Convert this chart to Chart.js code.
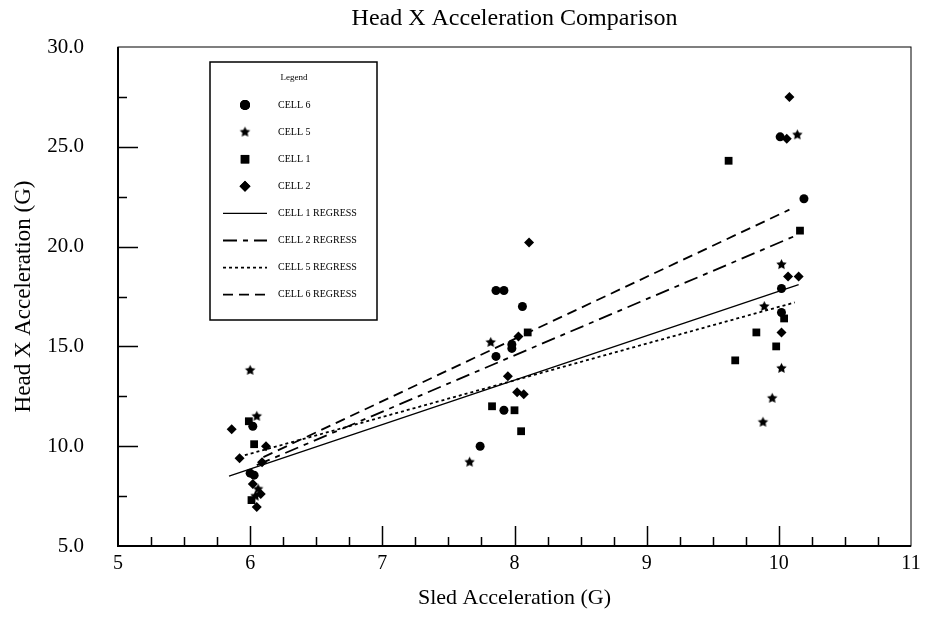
<!DOCTYPE html>
<html>
<head>
<meta charset="utf-8">
<script src="https://cdn.jsdelivr.net/npm/chart.js@4.4.1/dist/chart.umd.min.js"></script>
<style>
  html, body { margin: 0; padding: 0; background: #fff; }
  #wrap { width: 928px; height: 628px; }
</style>
</head>
<body>
<div id="wrap"><canvas id="accChart" width="928" height="628"></canvas></div>
<script>
// values
const cell6X = [6.00, 6.03, 6.02, 7.86, 7.92, 8.06, 7.98, 7.98, 7.86, 7.92, 7.74, 10.01, 10.19, 10.02, 10.02];
const cell6Y = [8.65, 8.55, 11.0, 17.8, 17.8, 17.0, 15.1, 14.9, 14.5, 11.8, 10.0, 25.5, 22.4, 17.9, 16.7];

const cell5X = [6.00, 6.05, 6.06, 6.04, 7.82, 7.66, 10.14, 10.02, 9.89, 10.02, 9.95, 9.88];
const cell5Y = [13.8, 11.5, 7.85, 7.5, 15.2, 9.2, 25.6, 19.1, 17.0, 13.9, 12.4, 11.2];

const cell1X = [5.99, 6.03, 6.01, 8.10, 7.83, 8.00, 8.05, 9.62, 10.16, 10.04, 9.98, 9.83, 9.67];
const cell1Y = [11.25, 10.1, 7.3, 15.7, 12.0, 11.8, 10.75, 24.3, 20.8, 16.4, 15.0, 15.7, 14.3];

const cell2X = [5.86, 5.92, 6.12, 6.09, 6.02, 6.08, 6.05, 8.11, 7.95, 8.02, 8.07, 8.03, 10.08, 10.06, 10.07, 10.15, 10.02];
const cell2Y = [10.85, 9.4, 10.0, 9.2, 8.1, 7.6, 6.95, 20.2, 13.5, 12.7, 12.6, 15.5, 27.5, 25.4, 18.5, 18.5, 15.7];

// regression line end points
const reg1X = [5.84, 10.15], reg1Y = [8.5, 18.1];
const reg2X = [6.05, 10.11], reg2Y = [9.05, 20.5];
const reg5X = [5.96, 10.12], reg5Y = [9.55, 17.2];
const reg6X = [6.10, 10.08], reg6Y = [9.45, 21.85];

const xTicks = [5, 6, 7, 8, 9, 10, 11];
const yTicks = [5, 10, 15, 20, 25, 30];

const serif = "'Liberation Serif', 'Times New Roman', serif";

function pts(xs, ys) {
    return xs.map((x, i) => ({ x: x, y: ys[i] }));
}

// filled five point star for CELL 5
function makeStar(r) {
    const c = document.createElement("canvas");
    const s = Math.ceil(r * 2 + 2);
    c.width = s; c.height = s;
    const g = c.getContext("2d");
    g.fillStyle = "#000";
    g.beginPath();
    for (let i = 0; i < 10; i++) {
        const rad = i % 2 === 0 ? r : r * 0.5;
        const a = -Math.PI / 2 + i * Math.PI / 5;
        const px = s / 2 + rad * Math.cos(a), py = s / 2 + rad * Math.sin(a);
        if (i === 0) g.moveTo(px, py); else g.lineTo(px, py);
    }
    g.closePath();
    g.fill();
    return c;
}
const starImg = makeStar(5.5);

function scatterSet(label, data, style, radius) {
    return {
        type: "scatter",
        label: label,
        data: data,
        pointStyle: style,
        pointRadius: radius,
        backgroundColor: "#000",
        borderColor: "#000",
        borderWidth: 0,
    };
}

function lineSet(label, data, dash, width) {
    return {
        type: "line",
        label: label,
        data: data,
        borderColor: "#000",
        borderWidth: width,
        borderDash: dash,
        pointRadius: 0,
        fill: false,
    };
}

const datasets = [
    scatterSet("CELL 6", pts(cell6X, cell6Y), "circle", 4.5),
    scatterSet("CELL 5", pts(cell5X, cell5Y), starImg, 5),
    scatterSet("CELL 1", pts(cell1X, cell1Y), "rect", 5.5),
    scatterSet("CELL 2", pts(cell2X, cell2Y), "rectRot", 5),
    lineSet("CELL 1 REGRESS", pts(reg1X, reg1Y), [], 1.3),
    lineSet("CELL 2 REGRESS", pts(reg2X, reg2Y), [14, 6, 5, 6], 1.8),
    lineSet("CELL 5 REGRESS", pts(reg5X, reg5Y), [3, 3], 1.8),
    lineSet("CELL 6 REGRESS", pts(reg6X, reg6Y), [10, 6], 1.8),
];

// frame, inward tick marks, title and the boxed legend
const decorPlugin = {
    id: "decor",
    afterDraw(chart) {
        const ctx = chart.ctx;
        const a = chart.chartArea;
        const xs = chart.scales.x, ys = chart.scales.y;
        ctx.save();
        ctx.strokeStyle = "#000";

        // frame
        ctx.lineWidth = 1;
        ctx.strokeRect(a.left, a.top, a.right - a.left, a.bottom - a.top);
        ctx.lineWidth = 2;
        ctx.beginPath();
        ctx.moveTo(a.left, a.top);
        ctx.lineTo(a.left, a.bottom);
        ctx.lineTo(a.right, a.bottom);
        ctx.stroke();

        // ticks
        ctx.lineWidth = 1.5;
        ctx.beginPath();
        for (let v = 5.25; v < 11; v += 0.25) {
            const px = Math.round(xs.getPixelForValue(v)) + 0.5;
            const len = Math.abs(v - Math.round(v)) < 1e-6 ? 20 : 9;
            ctx.moveTo(px, a.bottom);
            ctx.lineTo(px, a.bottom - len);
        }
        for (let v = 7.5; v < 30; v += 2.5) {
            const py = Math.round(ys.getPixelForValue(v)) + 0.5;
            const len = v % 5 === 0 ? 20 : 9;
            ctx.moveTo(a.left, py);
            ctx.lineTo(a.left + len, py);
        }
        ctx.stroke();

        // title
        ctx.fillStyle = "#000";
        ctx.font = "24px " + serif;
        ctx.textAlign = "center";
        ctx.textBaseline = "middle";
        ctx.fillText("Head X Acceleration Comparison", (a.left + a.right) / 2, 19);

        // legend box
        const L = 210, T = 62, R = 377, B = 320;
        ctx.lineWidth = 1.5;
        ctx.strokeRect(L, T, R - L, B - T);
        ctx.font = "9px " + serif;
        ctx.fillText("Legend", 294, 78);
        ctx.textAlign = "left";
        ctx.font = "10px " + serif;
        const rowY0 = 105, rowStep = 27.1;
        chart.data.datasets.forEach((ds, i) => {
            const y = rowY0 + i * rowStep;
            if (ds.type === "scatter") {
                Chart.helpers.drawPoint(ctx, {
                    pointStyle: ds.pointStyle,
                    radius: ds.pointRadius + 0.5,
                    borderWidth: 0,
                }, 245, y);
                ctx.fill();
            } else {
                ctx.lineWidth = ds.borderWidth;
                ctx.setLineDash(ds.borderDash);
                ctx.beginPath();
                ctx.moveTo(223, y);
                ctx.lineTo(267, y);
                ctx.stroke();
                ctx.setLineDash([]);
            }
            ctx.fillText(ds.label, 278, y);
        });
        ctx.restore();
    },
};

const chartCtx = document.getElementById("accChart").getContext("2d");
const accChart = new Chart(chartCtx, {
    data: { datasets: datasets },
    options: {
        responsive: false,
        animation: false,
        layout: { padding: { top: 47, right: 17, left: 10, bottom: 17 } },
        plugins: {
            legend: { display: false },
            title: { display: false },
            tooltip: { enabled: false },
        },
        scales: {
            x: {
                type: "linear",
                min: 5,
                max: 11,
                afterBuildTicks: (scale) => { scale.ticks = xTicks.map(v => ({ value: v })); },
                ticks: { color: "#000", font: { family: serif, size: 20 }, padding: -2 },
                grid: { display: false },
                border: { display: false },
                title: { display: true, text: "Sled Acceleration (G)", color: "#000", font: { family: serif, size: 22 }, padding: 0 },
                afterFit: (scale) => { scale.height = 65; },
            },
            y: {
                type: "linear",
                min: 5,
                max: 30,
                afterBuildTicks: (scale) => { scale.ticks = yTicks.map(v => ({ value: v })); },
                ticks: { color: "#000", font: { family: serif, size: 21 }, padding: 26, callback: (v) => Number(v).toFixed(1) },
                grid: { display: false },
                border: { display: false },
                title: { display: true, text: "Head X Acceleration (G)", color: "#000", font: { family: serif, size: 23 }, padding: 0 },
                afterFit: (scale) => { scale.width = 108; },
            },
        },
    },
    plugins: [decorPlugin],
});
</script>
</body>
</html>
